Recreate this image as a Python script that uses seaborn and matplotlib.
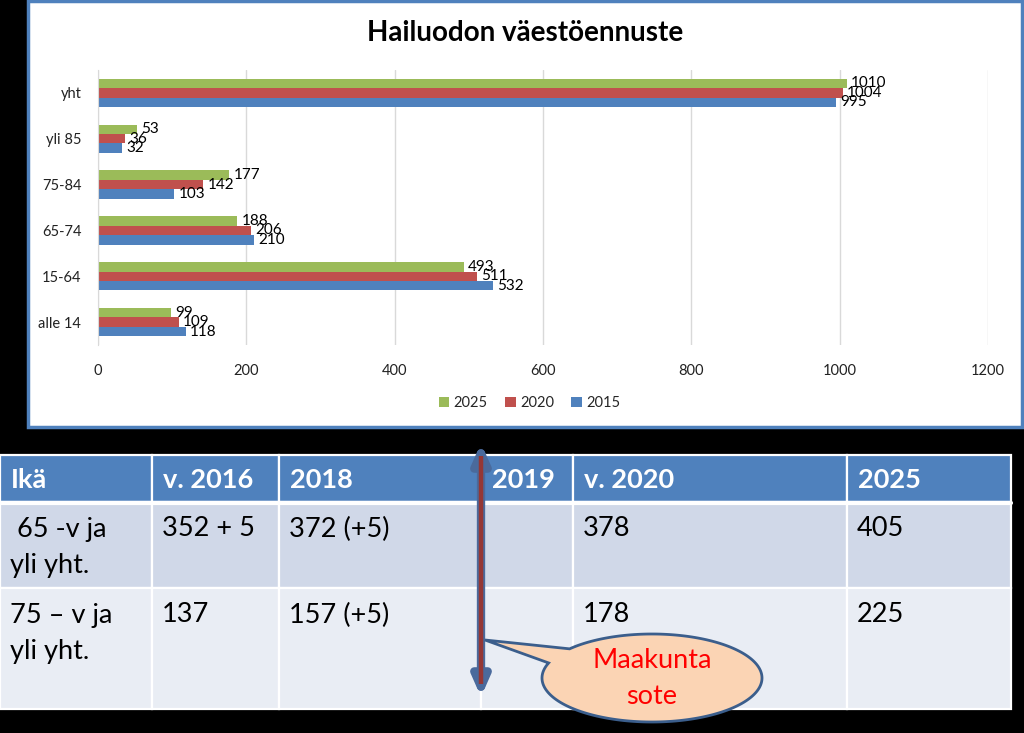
import numpy as np
import pandas as pd
import matplotlib
matplotlib.use('Agg')
import matplotlib.pyplot as plt
import seaborn as sns
from matplotlib.patches import Rectangle, Polygon, FancyArrowPatch

# ---------------- data ----------------
categories = ['yht', 'yli 85', '75-84', '65-74', '15-64', 'alle 14']
years = ['2025', '2020', '2015']
v2025 = [1010, 53, 177, 188, 493, 99]
v2020 = [1004, 36, 142, 206, 511, 109]
v2015 = [995, 32, 103, 210, 532, 118]
x_ticks = [0, 200, 400, 600, 800, 1000, 1200]
title = 'Hailuodon väestöennuste'

table_header = ['Ikä', 'v. 2016', '2018', '2019', 'v. 2020', '2025']
table_row1 = [' 65 -v ja\nyli yht.', '352 + 5', '372 (+5)', '', '378', '405']
table_row2 = ['75 – v ja\nyli yht.', '137', '157 (+5)', '', '178', '225']
callout_text = ['Maakunta', 'sote']

palette = {'2025': '#9BBB59', '2020': '#C0504D', '2015': '#4F81BD'}

# ---------------- style ----------------
sns.set_style('white')
plt.rcParams['font.family'] = ['Lato', 'DejaVu Sans']

W, H = 1024, 733
fig = plt.figure(figsize=(W / 100, H / 100), dpi=100, facecolor='black')

# background / layout layer in pixel coordinates
bg = fig.add_axes([0, 0, 1, 1])
bg.set_xlim(0, W)
bg.set_ylim(H, 0)
bg.axis('off')
bg.add_patch(Rectangle((0, 0), W, H, facecolor='black', edgecolor='none', zorder=0))

# chart panel
bg.add_patch(Rectangle((28, 1), 994, 426, facecolor='white', edgecolor='#4F81BD', lw=2.5, zorder=1))

# table
col_edges = [0, 152, 279, 481, 573, 847, 1011]
row_edges = [455, 502, 588, 709]
row_colors = ['#4F81BD', '#D0D8E8', '#E9EDF4']
rows = [table_header, table_row1, table_row2]
for r in range(3):
    for c in range(len(col_edges) - 1):
        x0, x1 = col_edges[c], col_edges[c + 1]
        y0, y1 = row_edges[r], row_edges[r + 1]
        bg.add_patch(Rectangle((x0, y0), x1 - x0, y1 - y0, facecolor=row_colors[r],
                               edgecolor='white', lw=1.6, zorder=2))
        txt = rows[r][c]
        if not txt:
            continue
        if r == 0:
            bg.text(x0 + 11, (y0 + y1) / 2 + 1, txt, color='white', fontsize=19.5,
                    fontweight='bold', ha='left', va='center', zorder=3)
        else:
            for i, line in enumerate(txt.split('\n')):
                bg.text(x0 + 10, y0 + 27 + i * 37, line, color='black', fontsize=19.5,
                        ha='left', va='center', zorder=3)
# thicker white line under header
bg.plot([0, 1011], [503, 503], color='white', lw=3, zorder=3)

# double arrow
arr = FancyArrowPatch((481, 697), (481, 443),
                      arrowstyle='<|-|>,head_length=0.5,head_width=0.22',
                      mutation_scale=22, facecolor='#4A6A9C', edgecolor='#4A6A9C',
                      lw=6, zorder=4, shrinkA=0, shrinkB=0)
bg.add_patch(arr)
bg.plot([481, 481], [456, 684], color='#953735', lw=3.2, zorder=5, solid_capstyle='butt')

# callout bubble
cx, cy, a, b = 652, 678, 110, 44
t1, t2 = np.deg2rad(221.5), np.deg2rad(200 + 360)
t = np.linspace(t1, t2, 200)
pts = np.column_stack([cx + a * np.cos(t), cy + b * np.sin(t)])
pts = np.vstack([pts, [485, 640]])
bg.add_patch(Polygon(pts, closed=True, facecolor='#FBD4B4', edgecolor='#3B5E8C', lw=2, zorder=6))
for i, line in enumerate(callout_text):
    bg.text(cx, 661 + i * 35, line, color='#FF0000', fontsize=19.5, ha='center', va='center', zorder=7)

# ---------------- bar chart ----------------
df = pd.DataFrame({
    'cat': categories * 3,
    'year': ['2025'] * len(categories) + ['2020'] * len(categories) + ['2015'] * len(categories),
    'value': v2025 + v2020 + v2015,
})

left, right, top, bottom = 98, 988, 70, 345
ax = fig.add_axes([left / W, 1 - bottom / H, (right - left) / W, (bottom - top) / H])
ax.set_facecolor('none')
sns.barplot(data=df, x='value', y='cat', hue='year', hue_order=years, order=categories,
            palette=palette, orient='h', width=0.62, saturation=1, linewidth=0, ax=ax)

for cont in ax.containers:
    ax.bar_label(cont, padding=3, fontsize=11, color='black')

ax.set_xlim(0, 1200)
ax.set_xticks(x_ticks)
ax.set_xlabel('')
ax.set_ylabel('')
ax.xaxis.grid(True, color='#D9D9D9', lw=1)
ax.yaxis.grid(False)
ax.set_axisbelow(True)
for s in ['top', 'right', 'bottom']:
    ax.spines[s].set_visible(False)
ax.spines['left'].set_color('#D9D9D9')
ax.tick_params(axis='both', length=0, labelsize=10.5, colors='#222222')
ax.tick_params(axis='y', pad=12)
ax.tick_params(axis='x', pad=14)

handles, labels = ax.get_legend_handles_labels()
ax.legend(handles, labels, loc='center', bbox_to_anchor=(0.485, -0.211), ncol=3,
          frameon=False, fontsize=10.5, handlelength=0.7, handleheight=0.7,
          handletextpad=0.3, columnspacing=1.2)

fig.text(525 / W, 1 - 33 / H, title, ha='center', va='center', fontsize=20,
         fontweight='bold', color='black')

fig.savefig('out.png', dpi=100, facecolor='black')
